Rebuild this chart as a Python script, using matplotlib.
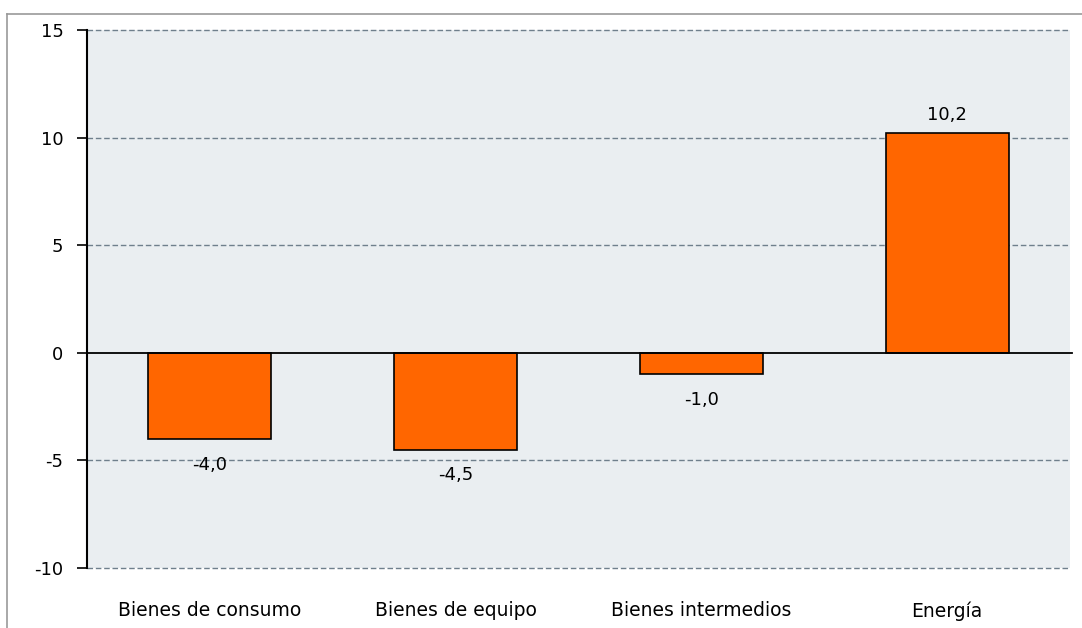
import numpy as np
import matplotlib.pyplot as plt
from matplotlib.lines import Line2D

categorias = ["Bienes de consumo", "Bienes de equipo", "Bienes intermedios", "Energía"]
valores = [-4.0, -4.5, -1.0, 10.2]
etiquetas = ["-4,0", "-4,5", "-1,0", "10,2"]
yticks = [-10, -5, 0, 5, 10, 15]

fig = plt.figure(figsize=(10.82, 6.28), dpi=100)
ax = fig.add_axes([87/1082, 60/628, 983/1082, 538/628])
ax.set_facecolor("#EAEEF1")

# marco exterior (solo arriba e izquierda visibles)
fig.add_artist(Line2D([7/1082, 1], [1-14/628, 1-14/628], color="#999999", lw=1.2))
fig.add_artist(Line2D([7/1082, 7/1082], [0, 1-14/628], color="#999999", lw=1.2))

x = np.arange(len(categorias))
ax.bar(x, valores, width=0.5, color="#FF6600", edgecolor="black", linewidth=1.2, zorder=3)

for xi, v, t in zip(x, valores, etiquetas):
    off = 7 if v > 0 else -12
    ax.annotate(t, (xi, v), xytext=(0, off), textcoords="offset points",
                ha="center", va="bottom" if v > 0 else "top", fontsize=13, color="black")

ax.set_xlim(-0.5, 3.5)
ax.set_ylim(-10, 15)
ax.set_yticks(yticks)
ax.set_yticklabels([str(t) for t in yticks], fontsize=13)
ax.set_xticks(x)
ax.set_xticklabels(categorias, fontsize=13.5)
ax.tick_params(axis="x", length=0, pad=24)
ax.tick_params(axis="y", length=7, width=1.2, direction="out", pad=10)

for t in yticks:
    if t != 0:
        ax.axhline(t, color="#6F7F8C", lw=1.0, ls=(0, (4, 2)), zorder=1, clip_on=False)
ax.axhline(0, color="black", lw=1.3, zorder=4, clip_on=False, xmin=0, xmax=1.002)

for s in ["top", "right", "bottom"]:
    ax.spines[s].set_visible(False)
ax.spines["left"].set_linewidth(1.5)

fig.savefig("out.png", dpi=100)
